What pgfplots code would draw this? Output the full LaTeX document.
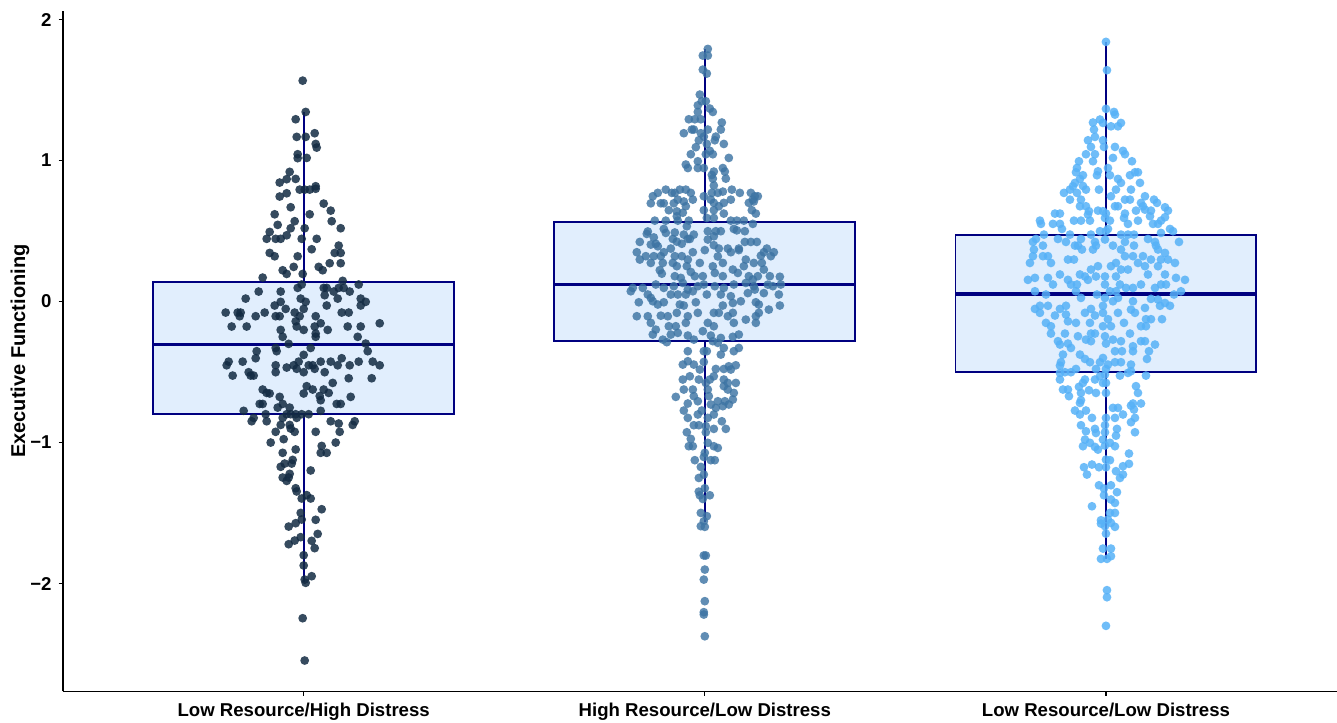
\documentclass[border=0pt]{standalone}
\usepackage{pgfplots}
\pgfplotsset{compat=1.18}
\usepackage{pgfplotstable}
\usepgfplotslibrary{statistics}
\usepackage{fontspec}
\setmainfont{Liberation Sans}
\definecolor{gA}{HTML}{132B43}
\definecolor{gB}{HTML}{3D74A3}
\definecolor{gC}{HTML}{56B1F7}
\definecolor{boxfill}{HTML}{E1EEFD}
\definecolor{navyc}{HTML}{000080}

\pgfplotstableread[row sep=\\]{
dx y\\
-1 1.567\\ 2 1.345\\ -8 1.293\\ -7 1.168\\ 2 1.168\\ 11 1.194\\ 12 1.118\\ 13 1.092\\ -6 1.045\\ -6 1.017\\ 3 1.019\\ -14 0.920\\ -24 0.844\\ -17 0.868\\ -8 0.870\\ -4 0.794\\ 1 0.794\\ 6 0.794\\ 12 0.818\\ 12 0.800\\ -24 0.745\\ -17 0.768\\ -13 0.669\\ 20 0.695\\ 27 0.645\\ -29 0.619\\ 6 0.619\\ -9 0.570\\ 28 0.570\\ -26 0.544\\ -13 0.520\\ 1 0.520\\ 37 0.520\\ -34 0.494\\ -17 0.470\\ -37 0.445\\ -28 0.445\\ -23 0.445\\ -2 0.445\\ 13 0.445\\ 35 0.397\\ 8 0.371\\ -34 0.345\\ -29 0.321\\ -6 0.321\\ 31 0.345\\ 37 0.345\\ 37 0.272\\ 26 0.272\\ 15 0.246\\ 19 0.222\\ -21 0.222\\ -17 0.196\\ -10 0.246\\ -1 0.196\\ -41 0.170\\ 39 0.147\\ 55 0.121\\ -6 0.097\\ -2 0.121\\ 20 0.097\\ 23 0.097\\ 30 0.071\\ 35 0.097\\ 40 0.097\\ 46 0.071\\ -45 0.071\\ -23 0.071\\ -58 0.021\\ -3 0.021\\ 2 -0.002\\ 57 0.021\\ 62 -0.002\\ 21 0.045\\ 34 0.021\\ 57 -0.028\\ -23 -0.002\\ -29 -0.028\\ 23 -0.028\\ -78 -0.078\\ -66 -0.078\\ -63 -0.078\\ -39 -0.078\\ -18 -0.052\\ -9 -0.078\\ 0 -0.052\\ 38 -0.078\\ 45 -0.078\\ -64 -0.104\\ -48 -0.104\\ -28 -0.104\\ -24 -0.104\\ -4 -0.104\\ 12 -0.104\\ -72 -0.177\\ -57 -0.177\\ -7 -0.177\\ 0 -0.201\\ 11 -0.177\\ 17 -0.154\\ 24 -0.201\\ 44 -0.177\\ 57 -0.177\\ 76 -0.154\\ -8 -0.140\\ -23 -0.201\\ -21 -0.250\\ 12 -0.250\\ 54 -0.250\\ 12 -0.227\\ -15 -0.300\\ 62 -0.298\\ 7 -0.329\\ -28 -0.329\\ -27 -0.352\\ -47 -0.352\\ 64 -0.352\\ 0 -0.378\\ -48 -0.402\\ 38 -0.402\\ -75 -0.426\\ -77 -0.452\\ -61 -0.426\\ -10 -0.452\\ -5 -0.426\\ 5 -0.452\\ 9 -0.452\\ 17 -0.426\\ 27 -0.426\\ 34 -0.452\\ 46 -0.452\\ 55 -0.426\\ 69 -0.426\\ 76 -0.452\\ -28 -0.452\\ -17 -0.468\\ -7 -0.477\\ 11 -0.477\\ -71 -0.525\\ -55 -0.501\\ -53 -0.525\\ -50 -0.525\\ -28 -0.501\\ 0 -0.501\\ 21 -0.501\\ 45 -0.544\\ 68 -0.544\\
29 -0.577\\ -41 -0.624\\ -37 -0.648\\ -34 -0.652\\ -24 -0.676\\ 0 -0.652\\ 3 -0.600\\ 9 -0.624\\ 16 -0.670\\ 20 -0.624\\ 25 -0.648\\ 17 -0.700\\ 47 -0.676\\ 33 -0.726\\ 37 -0.726\\ -44 -0.726\\ -41 -0.726\\ -21 -0.726\\ -26 -0.752\\ -14 -0.752\\ 17 -0.775\\ -60 -0.775\\ -38 -0.799\\ -17 -0.799\\ -13 -0.799\\ -8 -0.799\\ -2 -0.799\\ 5 -0.799\\ -7 -0.825\\ -21 -0.825\\ -52 -0.849\\ -50 -0.825\\ -37 -0.849\\ -23 -0.875\\ -14 -0.875\\ 27 -0.849\\ 35 -0.865\\ 49 -0.875\\ 51 -0.849\\ -28 -0.924\\ -13 -0.901\\ -9 -0.924\\ 12 -0.924\\ 36 -0.924\\ -33 -1.000\\ -20 -0.976\\ 18 -1.024\\ 32 -1.000\\ -8 -1.049\\ -21 -1.073\\ 17 -1.073\\ 23 -1.073\\ -11 -1.123\\ -12 -1.149\\ -19 -1.149\\ -23 -1.172\\ 7 -1.198\\ -14 -1.222\\ -21 -1.248\\ -17 -1.272\\ -15 -1.248\\ -8 -1.324\\ -7 -1.347\\ -2 -1.397\\ 3 -1.373\\ 7 -1.397\\ 18 -1.473\\ -3 -1.499\\ -2 -1.546\\ -8 -1.572\\ -15 -1.596\\ 12 -1.548\\ 14 -1.648\\ -3 -1.671\\ -9 -1.695\\ -15 -1.721\\ 8 -1.697\\ 11 -1.749\\ 0 -1.799\\ 0 -1.872\\ 1 -1.972\\ 2 -1.995\\ 8 -1.948\\ -1 -2.246\\ 1 -2.546\\
}\grpA

\pgfplotstableread[row sep=\\]{
dx y\\
3 1.792\\ -2 1.745\\ 3 1.745\\ -2 1.645\\ 2 1.617\\ -5 1.468\\ 1 1.421\\ -3 1.421\\ -7 1.392\\ 5 1.369\\ 8 1.345\\ -7 1.345\\ -16 1.293\\ -10 1.293\\ -4 1.293\\ 17 1.270\\ -13 1.220\\ -11 1.220\\ -21 1.194\\ -4 1.194\\ 3 1.220\\ 16 1.220\\ 11 1.170\\ -1 1.170\\ -6 1.144\\ 10 1.144\\ 19 1.118\\ -9 1.095\\ 2 1.118\\ -14 1.045\\ 5 1.069\\ 8 1.045\\ 24 1.019\\ 1 1.045\\ -7 0.995\\ -19 0.972\\ -17 0.947\\ -7 0.947\\ -1 0.947\\ 18 0.947\\ 20 0.922\\ 9 0.922\\ 7 0.898\\ 8 0.872\\ 21 0.872\\ 9 0.823\\
-52 0.747\\ -47 0.771\\ -39 0.794\\ -33 0.771\\ -30 0.771\\ -25 0.794\\ -19 0.794\\ -14 0.771\\ -1 0.747\\ 7 0.771\\ 13 0.771\\ 18 0.780\\ 27 0.794\\ 35 0.771\\ 46 0.771\\ 50 0.747\\ 53 0.747\\ 48 0.723\\
-54 0.697\\ -44 0.697\\ -41 0.697\\ -31 0.697\\ -27 0.723\\ -19 0.676\\ -12 0.723\\ -21 0.710\\ 6 0.723\\ 9 0.700\\ 14 0.676\\ 19 0.700\\ 26 0.723\\ 44 0.700\\ 49 0.710\\
-36 0.648\\ -28 0.640\\ -22 0.630\\ -28 0.605\\ -1 0.648\\ 9 0.648\\ 19 0.624\\ 47 0.648\\ 51 0.624\\
-50 0.574\\ -39 0.574\\ -27 0.574\\ -16 0.574\\ 2 0.593\\ 9 0.593\\ 26 0.574\\ 32 0.574\\ 39 0.574\\ 48 0.551\\ -41 0.515\\ -18 0.534\\ 29 0.515\\
-57 0.497\\ -58 0.480\\ -39 0.487\\ -30 0.490\\ -21 0.475\\ -15 0.444\\ -11 0.475\\ 3 0.499\\ 11 0.499\\ 16 0.499\\ 9 0.463\\ 32 0.505\\ 40 0.499\\ -32 0.444\\ -28 0.425\\ -51 0.455\\
-65 0.423\\ -54 0.404\\ -49 0.410\\ -47 0.392\\ -34 0.376\\ -23 0.410\\ -17 0.444\\ 3 0.440\\ 9 0.400\\ 14 0.376\\ 23 0.376\\ 34 0.376\\ 40 0.423\\ 46 0.423\\ 52 0.423\\ 62 0.376\\ 69 0.350\\
-68 0.350\\ -59 0.322\\ -51 0.322\\ -44 0.322\\ -41 0.350\\ -30 0.322\\ -23 0.322\\ -12 0.350\\ 0 0.365\\ 13 0.320\\ 26 0.350\\ 34 0.365\\ 41 0.298\\ 56 0.325\\ 66 0.322\\ 59 0.350\\
-65 0.298\\ -54 0.274\\ -42 0.274\\ -32 0.274\\ -28 0.251\\ -18 0.251\\ -5 0.274\\ 8 0.250\\ 18 0.274\\ 28 0.227\\ 39 0.251\\ 49 0.274\\ 57 0.274\\ 59 0.227\\ -17 0.298\\
-45 0.223\\ -43 0.198\\ -30 0.180\\ -14 0.210\\ -10 0.180\\ -2 0.180\\ 10 0.203\\ 18 0.180\\ 33 0.203\\ 44 0.180\\ 48 0.156\\ 53 0.180\\ 65 0.180\\ 75 0.176\\ -24 0.168\\
-72 0.097\\ -62 0.097\\ -49 0.121\\ -41 0.097\\ -31 0.109\\ -22 0.132\\ -17 0.085\\ -7 0.109\\ -1 0.121\\ 10 0.109\\ 19 0.097\\ 29 0.121\\ 41 0.132\\ 49 0.109\\ 63 0.120\\ 68 0.109\\ 76 0.121\\ 50 0.085\\
-74 0.073\\ -57 0.050\\ -54 0.026\\ -34 0.050\\ -27 0.050\\ -19 0.050\\ -12 0.073\\ 2 0.050\\ 16 0.050\\ 26 0.038\\ 43 0.060\\ 59 0.060\\ 74 0.050\\
-66 -0.005\\ -52 0.002\\ -47 -0.021\\ -41 -0.005\\ -25 -0.021\\ -21 -0.028\\ -9 -0.005\\ 18 -0.028\\ 28 -0.010\\ 36 0.002\\ 51 -0.005\\ 54 -0.021\\ 75 -0.028\\ 64 -0.057\\
-68 -0.104\\ -57 -0.104\\ -44 -0.100\\ -37 -0.104\\ -28 -0.080\\ -17 -0.104\\ -7 -0.080\\ 9 -0.080\\ 14 -0.080\\ 23 -0.104\\ 28 -0.080\\ 41 -0.128\\ 51 -0.104\\ 54 -0.080\\
-54 -0.151\\ -49 -0.199\\ -36 -0.175\\ -29 -0.175\\ -19 -0.151\\ 3 -0.151\\ 9 -0.175\\ 29 -0.151\\ 51 -0.151\\
-52 -0.234\\ -42 -0.270\\ -38 -0.288\\ -34 -0.234\\ -27 -0.222\\ -17 -0.241\\ -11 -0.270\\ -2 -0.210\\ 6 -0.241\\ 16 -0.258\\ 28 -0.250\\ 34 -0.234\\ 13 -0.293\\ 8 -0.281\\
-17 -0.352\\ -1 -0.352\\ 2 -0.352\\ 16 -0.376\\ 19 -0.329\\ 29 -0.352\\ 34 -0.329\\
-22 -0.447\\ -17 -0.423\\ -11 -0.447\\ -5 -0.482\\ -1 -0.428\\ 11 -0.478\\ 19 -0.478\\ 24 -0.459\\ 31 -0.452\\ 26 -0.482\\
-22 -0.553\\ -15 -0.530\\ -6 -0.553\\ 5 -0.553\\ 9 -0.530\\ 19 -0.553\\ 23 -0.577\\ 31 -0.577\\ 1 -0.577\\
-29 -0.676\\ -21 -0.624\\ -12 -0.624\\ -11 -0.671\\ 3 -0.624\\ 4 -0.671\\ 19 -0.600\\ 23 -0.624\\ 29 -0.648\\ 28 -0.695\\
-17 -0.723\\ -7 -0.707\\ 6 -0.730\\ 13 -0.707\\ 18 -0.742\\ 20 -0.707\\ 24 -0.730\\ -21 -0.773\\ -3 -0.773\\ 11 -0.754\\
-17 -0.825\\ -7 -0.801\\ 3 -0.825\\ 9 -0.801\\ 17 -0.849\\ -11 -0.877\\ -6 -0.877\\ 1 -0.884\\ 9 -0.903\\ 21 -0.903\\ -18 -0.927\\ 1 -0.927\\
-14 -0.974\\ -16 -1.026\\ -12 -1.026\\ 3 -1.002\\ 9 -1.026\\ 13 -1.038\\
0 -1.073\\ -1 -1.102\\ -10 -1.125\\ 6 -1.125\\ 10 -1.125\\
-4 -1.173\\ -1 -1.227\\ -6 -1.251\\
0 -1.324\\ -6 -1.348\\ -5 -1.374\\ 5 -1.374\\ -2 -1.400\\
-4 -1.499\\ 2 -1.522\\ -1 -1.558\\ -4 -1.593\\ 0 -1.598\\
-1 -1.801\\ 1 -1.801\\ 0 -1.901\\ -1 -1.972\\ 0 -2.125\\ -1 -2.203\\ -1 -2.220\\ 0 -2.374\\
}\grpB

\pgfplotstableread[row sep=\\]{
dx y\\
0 1.842\\ 1 1.641\\ 0 1.367\\ 8 1.345\\ 9 1.326\\ -13 1.270\\ -6 1.291\\ -3 1.267\\ 5 1.243\\ 12 1.243\\ 15 1.267\\ -12 1.220\\ -11 1.168\\ -18 1.144\\ -3 1.144\\ -2 1.097\\ -15 1.097\\ 9 1.097\\ 17 1.069\\ 19 1.045\\ -20 1.045\\ -11 1.045\\ 7 1.019\\ -27 0.995\\ -13 0.995\\ 26 0.995\\
-29 0.948\\ -30 0.917\\ -23 0.896\\ -9 0.896\\ -8 0.924\\ 2 0.947\\ 4 0.896\\ 29 0.917\\ 32 0.917\\ 24 0.896\\
-26 0.870\\ -31 0.842\\ -33 0.818\\ -23 0.820\\ -20 0.794\\ -7 0.794\\ 12 0.870\\ 15 0.842\\ 34 0.842\\ 10 0.794\\ 25 0.794\\ -36 0.794\\
-42 0.771\\ -29 0.771\\ -25 0.723\\ -36 0.723\\ 5 0.747\\ 19 0.723\\ 24 0.723\\ 39 0.747\\ 48 0.723\\ 51 0.700\\ 35 0.700\\
-26 0.676\\ -20 0.676\\ -17 0.641\\ -8 0.645\\ -3 0.641\\ 0 0.624\\ -18 0.617\\ 9 0.676\\ 12 0.676\\ 19 0.624\\ 30 0.645\\ 37 0.676\\ 45 0.645\\ 59 0.669\\ 62 0.645\\ -51 0.624\\ -46 0.624\\ 39 0.652\\
-66 0.574\\ -65 0.551\\ -53 0.551\\ -46 0.551\\ -44 0.515\\ -32 0.574\\ -25 0.574\\ -16 0.574\\ -1 0.593\\ 4 0.574\\ 18 0.593\\ 22 0.551\\ 32 0.574\\ 44 0.605\\ 47 0.551\\ 52 0.551\\ 55 0.574\\ 59 0.598\\ 64 0.515\\ 2 0.515\\
-62 0.475\\ -70 0.444\\ -73 0.423\\ -48 0.444\\ -40 0.423\\ -36 0.475\\ -31 0.397\\ -25 0.444\\ -15 0.475\\ -6 0.499\\ -11 0.423\\ -1 0.440\\ 0 0.499\\ 15 0.475\\ 22 0.475\\ 28 0.475\\ 19 0.423\\ 42 0.444\\ 49 0.423\\ 55 0.487\\ 67 0.499\\ 73 0.423\\ 50 0.397\\
-72 0.369\\ -63 0.397\\ -73 0.322\\ -63 0.322\\ -58 0.322\\ -38 0.298\\ -32 0.298\\ -28 0.397\\ -24 0.369\\ -13 0.369\\ -10 0.397\\ 7 0.397\\ 15 0.369\\ 28 0.397\\ 19 0.322\\ 27 0.322\\ 37 0.322\\ 45 0.298\\ 52 0.369\\ 55 0.298\\ 62 0.298\\ 59 0.345\\
-76 0.274\\ -55 0.274\\ -46 0.192\\ -26 0.192\\ -21 0.178\\ -15 0.227\\ -8 0.251\\ -1 0.178\\ 10 0.274\\ 5 0.251\\ 15 0.227\\ 22 0.227\\ 32 0.274\\ 39 0.251\\ 52 0.251\\ 69 0.274\\ 42 0.192\\ 59 0.192\\
-78 0.154\\ -71 0.168\\ -58 0.168\\ -53 0.121\\ -38 0.154\\ -35 0.121\\ -29 0.121\\ -18 0.154\\ -10 0.178\\ -1 0.121\\ 10 0.178\\ 14 0.121\\ 20 0.097\\ 27 0.097\\ 35 0.121\\ 49 0.097\\ 55 0.121\\ 60 0.121\\ 70 0.168\\ 79 0.154\\ -71 0.073\\ -30 0.073\\ 4 0.073\\ 10 0.073\\ 68 0.050\\ 75 0.073\\
-60 0.050\\ -25 0.026\\ -9 0.050\\ -1 0.026\\ 7 0.002\\ 12 0.026\\ 27 0.002\\ 45 0.019\\ 54 -0.030\\ 59 -0.010\\ 64 -0.030\\ -71 -0.052\\ -66 -0.030\\ -58 -0.030\\ -46 -0.052\\ -40 -0.030\\ -15 -0.052\\ -3 -0.030\\ 25 -0.057\\ 39 -0.045\\ 52 0.014\\
-66 -0.080\\ -51 -0.099\\ -40 -0.092\\ -21 -0.080\\ -11 -0.099\\ -3 -0.080\\ 2 -0.125\\ 12 -0.080\\ 29 -0.080\\ 40 -0.125\\ 45 -0.125\\ 56 -0.125\\ -60 -0.151\\ -55 -0.175\\ -38 -0.140\\ -30 -0.151\\ -16 -0.151\\ -3 -0.175\\ 5 -0.175\\ 18 -0.151\\ 35 -0.175\\ 40 -0.175\\
-55 -0.227\\ -41 -0.227\\ -28 -0.246\\ -20 -0.270\\ -15 -0.227\\ -1 -0.246\\ 7 -0.270\\ 15 -0.281\\ 24 -0.227\\ 35 -0.281\\ -48 -0.281\\ -38 -0.298\\ 0 -0.298\\ 27 -0.317\\ 49 -0.305\\ -11 -0.227\\ -15 -0.281\\ 39 -0.281\\ -46 -0.305\\
-43 -0.376\\ -35 -0.329\\ -26 -0.376\\ -21 -0.407\\ -16 -0.430\\ -3 -0.400\\ -6 -0.430\\ 2 -0.447\\ 9 -0.352\\ 16 -0.352\\ 27 -0.352\\ 43 -0.352\\ 41 -0.407\\ 9 -0.430\\ 15 -0.430\\ 25 -0.447\\ -45 -0.430\\ -46 -0.454\\
-46 -0.506\\ -41 -0.501\\ -35 -0.501\\ -30 -0.478\\ -10 -0.478\\ 0 -0.478\\ -6 -0.530\\ -1 -0.518\\ -3 -0.577\\ -11 -0.553\\ -21 -0.553\\ -23 -0.577\\ 14 -0.525\\ 22 -0.506\\ 25 -0.494\\ 40 -0.525\\ -46 -0.553\\ 0 -0.577\\
-43 -0.624\\ -38 -0.624\\ -37 -0.671\\ -27 -0.605\\ -25 -0.648\\ -17 -0.629\\ -10 -0.648\\ 0 -0.648\\ 30 -0.600\\ 32 -0.648\\ -25 -0.700\\ -26 -0.719\\ 27 -0.723\\ 35 -0.723\\ 25 -0.738\\
-31 -0.773\\ -26 -0.801\\ -20 -0.773\\ -14 -0.825\\ 0 -0.825\\ 7 -0.754\\ 12 -0.754\\ 9 -0.825\\ 17 -0.801\\ 28 -0.766\\ 29 -0.825\\ 25 -0.856\\
-25 -0.877\\ -20 -0.920\\ -11 -0.903\\ -10 -0.932\\ -1 -0.877\\ -1 -0.927\\ 11 -0.903\\ 10 -0.951\\ 29 -0.927\\
-21 -0.979\\ -23 -1.026\\ -16 -1.002\\ -11 -1.031\\ -8 -1.050\\ -3 -0.979\\ -1 -1.021\\ 4 -1.002\\ 9 -1.026\\
23 -1.078\\ 0 -1.121\\ 4 -1.125\\ -22 -1.175\\ -14 -1.156\\ -7 -1.175\\ 0 -1.175\\ -19 -1.227\\ 10 -1.203\\ 17 -1.168\\ 23 -1.151\\ 17 -1.227\\ 14 -1.251\\
-7 -1.303\\ 5 -1.303\\ -2 -1.326\\ 11 -1.352\\ -2 -1.374\\ 5 -1.404\\ 9 -1.428\\ -14 -1.452\\
4 -1.499\\ 9 -1.499\\ -5 -1.551\\ 2 -1.546\\ -5 -1.575\\ 5 -1.570\\ 9 -1.598\\ -1 -1.593\\ 0 -1.646\\
-3 -1.752\\ 5 -1.752\\ -5 -1.825\\ 1 -1.825\\ 5 -1.806\\
1 -2.047\\ 1 -2.097\\ 0 -2.300\\
}\grpC

\begin{document}
\begin{tikzpicture}
\begin{axis}[
  at={(0,0)}, anchor=south west,
  scale only axis, width=637pt, height=340.2pt,
  xmin=0.4, xmax=3.576, ymin=-2.765, ymax=2.061,
  axis lines*=left,
  axis line style={black, line width=0.7pt, -},
  tick style={black, line width=0.6pt},
  tick align=outside, major tick length=2.2pt,
  xtick={1,2,3},
  xticklabels={Low Resource/High Distress, High Resource/Low Distress, Low Resource/Low Distress},
  ytick={-2,-1,0,1,2},
  yticklabels={−2,−1,0,1,2},
  ticklabel style={font=\bfseries\fontsize{9.3}{11}\selectfont, black},
  ylabel={Executive Functioning},
  ylabel style={font=\bfseries\fontsize{10}{12}\selectfont, at={(axis description cs:-0.0337,0.5)}, anchor=center},
  clip=false,
  boxplot/draw direction=y,
  boxplot/every median/.style={line width=1.7pt},
]
% box fills
\addplot[boxplot prepared={draw position=1, lower whisker=-1.99, lower quartile=-0.80, median=-0.305, upper quartile=0.137, upper whisker=1.345, box extend=0.75, whisker extend=0}, draw=none, fill=boxfill] coordinates {};
\addplot[boxplot prepared={draw position=2, lower whisker=-1.56, lower quartile=-0.277, median=0.121, upper quartile=0.563, upper whisker=1.79, box extend=0.75, whisker extend=0}, draw=none, fill=boxfill] coordinates {};
\addplot[boxplot prepared={draw position=3, lower whisker=-1.825, lower quartile=-0.501, median=0.055, upper quartile=0.471, upper whisker=1.842, box extend=0.75, whisker extend=0}, draw=none, fill=boxfill] coordinates {};
% points
\addplot[only marks, mark=*, mark size=2.2pt, mark options={fill=gA, draw=gA, draw opacity=0, fill opacity=0.85}] table[x expr=1+\thisrow{dx}/401, y=y] {\grpA};
\addplot[only marks, mark=*, mark size=2.2pt, mark options={fill=gB, draw=gB, draw opacity=0, fill opacity=0.82}] table[x expr=2+\thisrow{dx}/401, y=y] {\grpB};
\addplot[only marks, mark=*, mark size=2.2pt, mark options={fill=gC, draw=gC, draw opacity=0, fill opacity=0.85}] table[x expr=3+\thisrow{dx}/401, y=y] {\grpC};
% box outlines
\addplot[boxplot prepared={draw position=1, lower whisker=-1.99, lower quartile=-0.80, median=-0.305, upper quartile=0.137, upper whisker=1.345, box extend=0.75, whisker extend=0}, draw=navyc, fill=none, line width=0.95pt] coordinates {};
\addplot[boxplot prepared={draw position=2, lower whisker=-1.56, lower quartile=-0.277, median=0.121, upper quartile=0.563, upper whisker=1.79, box extend=0.75, whisker extend=0}, draw=navyc, fill=none, line width=0.95pt] coordinates {};
\addplot[boxplot prepared={draw position=3, lower whisker=-1.825, lower quartile=-0.501, median=0.055, upper quartile=0.471, upper whisker=1.842, box extend=0.75, whisker extend=0}, draw=navyc, fill=none, line width=0.95pt] coordinates {};
\end{axis}
\pgfresetboundingbox
\useasboundingbox (-31.5pt,-15.3pt) rectangle (637pt,345.7pt);
\end{tikzpicture}
\end{document}
